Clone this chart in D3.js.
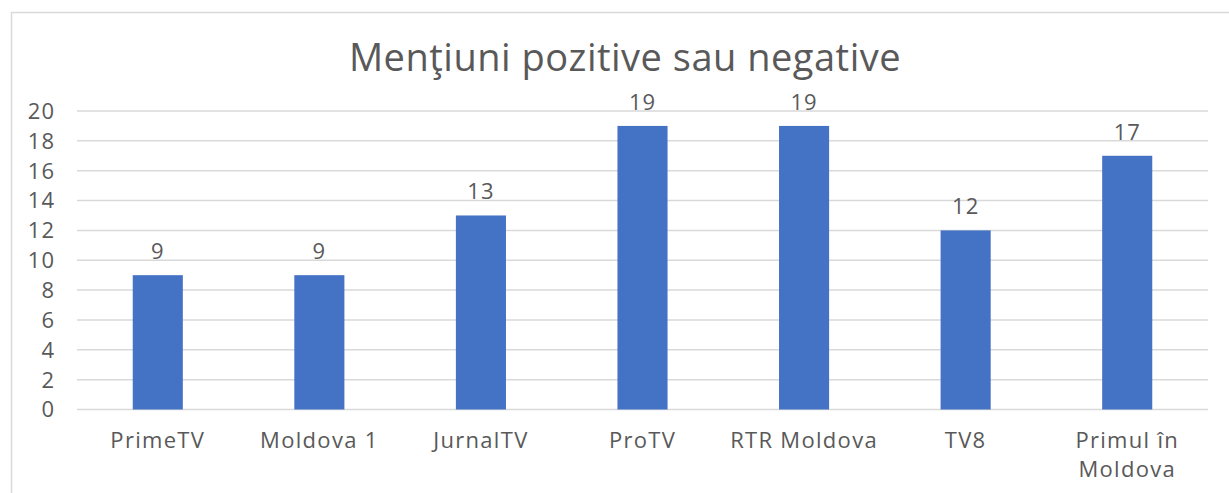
<!DOCTYPE html>
<html>
<head>
<meta charset="utf-8">
<script src="https://cdn.jsdelivr.net/npm/d3@7"></script>
<style>
  body { margin: 0; background: #fff; }
  text { font-family: "Open Sans", sans-serif; fill: #595959; }
</style>
</head>
<body>
<svg id="chart" width="1229" height="493"></svg>
<script>
// Data
const categories = ["PrimeTV", "Moldova 1", "JurnalTV", "ProTV", "RTR Moldova", "TV8", "Primul în Moldova"];
const values = [9, 9, 13, 19, 19, 12, 17];
const yTicks = [0, 2, 4, 6, 8, 10, 12, 14, 16, 18, 20];
const title = "Menţiuni pozitive sau negative";

const svg = d3.select("#chart");

// Chart border
svg.append("rect")
  .attr("x", 11.5).attr("y", 12.5)
  .attr("width", 1240).attr("height", 500)
  .attr("fill", "none")
  .attr("stroke", "#d9d9d9")
  .attr("stroke-width", 1.5);

const plotLeft = 77, plotRight = 1208, plotTop = 111, plotBottom = 409.5;

// X scale
const x = d3.scaleBand()
  .domain(categories)
  .range([plotLeft, plotRight])
  .paddingInner(0.69)
  .paddingOuter(0.345);

// Y scale
const y = d3.scaleLinear()
  .domain([0, 20])
  .range([plotBottom, plotTop]);

// Gridlines
svg.append("g")
  .selectAll("line")
  .data(yTicks).enter()
  .append("line")
  .attr("x1", plotLeft).attr("x2", plotRight)
  .attr("y1", d => y(d)).attr("y2", d => y(d))
  .attr("stroke", "#d9d9d9")
  .attr("stroke-width", 1.5);

// Y axis labels
svg.append("g")
  .selectAll("text")
  .data(yTicks).enter()
  .append("text")
  .attr("x", 55)
  .attr("y", d => y(d))
  .attr("dy", "0.36em")
  .attr("text-anchor", "end")
  .style("font-size", "22px")
  .style("letter-spacing", "1px")
  .text(d => d);

// Bars
svg.append("g")
  .selectAll("rect")
  .data(values).enter()
  .append("rect")
  .attr("x", (d, i) => x(categories[i]))
  .attr("y", d => y(d))
  .attr("width", x.bandwidth())
  .attr("height", d => y(0) - y(d))
  .attr("fill", "#4472c4");

// Value labels
svg.append("g")
  .selectAll("text")
  .data(values).enter()
  .append("text")
  .attr("x", (d, i) => x(categories[i]) + x.bandwidth() / 2)
  .attr("y", d => y(d) - 16)
  .attr("text-anchor", "middle")
  .style("font-size", "22px")
  .style("letter-spacing", "1px")
  .text(d => d);

// X axis labels (wrap the long one)
const xLabels = svg.append("g")
  .selectAll("text")
  .data(categories).enter()
  .append("text")
  .attr("x", d => x(d) + x.bandwidth() / 2)
  .attr("y", 448)
  .attr("text-anchor", "middle")
  .style("font-size", "22px")
  .style("letter-spacing", "1.3px");

xLabels.each(function(d) {
  const t = d3.select(this);
  const lines = d === "Primul în Moldova" ? ["Primul în", "Moldova"] : [d];
  lines.forEach((line, i) => {
    t.append("tspan")
      .attr("x", t.attr("x"))
      .attr("dy", i === 0 ? 0 : 29)
      .text(line);
  });
});

// Title
svg.append("text")
  .attr("x", 625)
  .attr("y", 71)
  .attr("text-anchor", "middle")
  .style("font-size", "38px")
  .style("letter-spacing", "0.5px")
  .text(title);
</script>
</body>
</html>
